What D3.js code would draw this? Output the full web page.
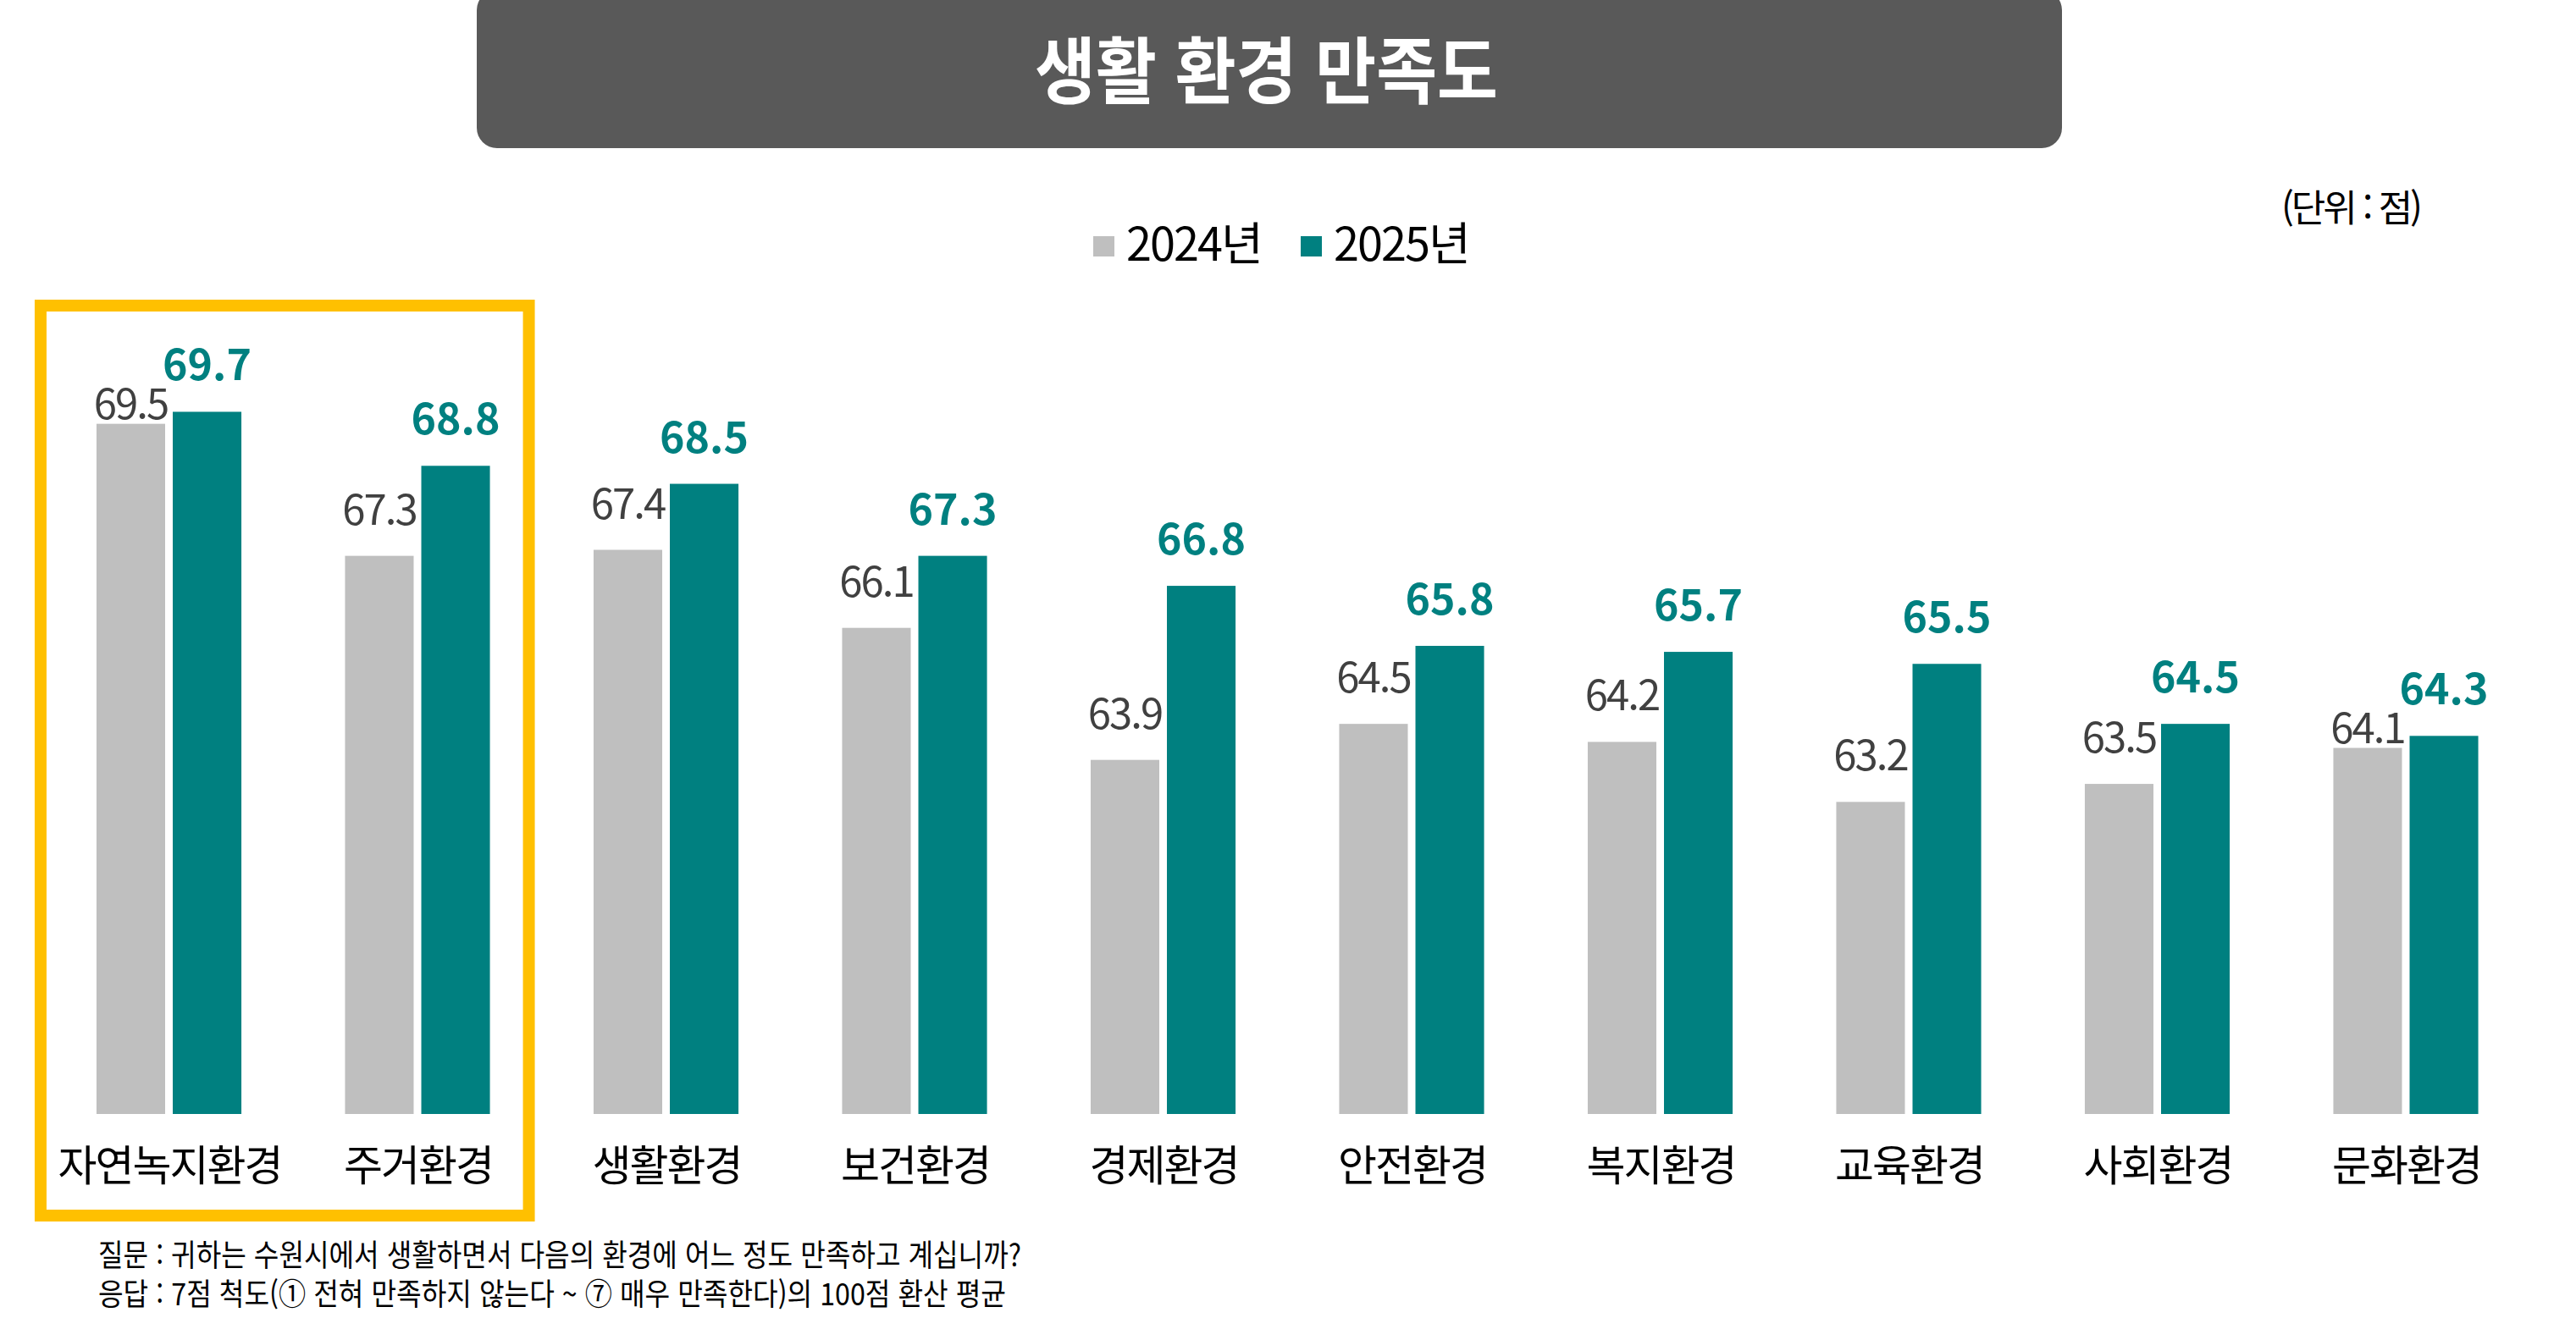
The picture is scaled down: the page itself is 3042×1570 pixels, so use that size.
<!DOCTYPE html>
<html lang="ko">
<head>
<meta charset="utf-8">
<title>생활 환경 만족도</title>
<script src="https://cdn.jsdelivr.net/npm/d3@7"></script>
<style>
  html, body { margin: 0; padding: 0; background: #fff; }
  svg { display: block; font-family: "Noto Sans CJK KR", "Noto Sans", sans-serif; }
</style>
</head>
<body>
<div id="chart"></div>
<script>
// Data
const categories = ['자연녹지환경', '주거환경', '생활환경', '보건환경', '경제환경', '안전환경', '복지환경', '교육환경', '사회환경', '문화환경'];
const values2024 = [69.5, 67.3, 67.4, 66.1, 63.9, 64.5, 64.2, 63.2, 63.5, 64.1];
const values2025 = [69.7, 68.8, 68.5, 67.3, 66.8, 65.8, 65.7, 65.5, 64.5, 64.3];
const seriesNames = ['2024년', '2025년'];
const highlighted = ['자연녹지환경', '주거환경'];
const title = '생활 환경 만족도';
const unitLabel = '(단위 : 점)';
const notes = [
  '질문 : 귀하는 수원시에서 생활하면서 다음의 환경에 어느 정도 만족하고 계십니까?',
  '응답 : 7점 척도(① 전혀 만족하지 않는다 ~ ⑦ 매우 만족한다)의 100점 환산 평균'
];

// Visual
const width = 3042;
const height = 1570;
const colors = ['#BFBFBF', '#008080'];
const labelColors = ['#404040', '#008080'];

const rows = categories.map((c, i) => ({ cat: c, vals: [values2024[i], values2025[i]] }));

const svg = d3.select('#chart')
  .append('svg')
  .attr('width', width)
  .attr('height', height);

// title box
svg.append('rect')
  .attr('x', 563).attr('y', -12)
  .attr('width', 1872).attr('height', 187)
  .attr('rx', 24)
  .attr('fill', '#595959');

svg.append('text')
  .attr('x', 1222).attr('y', 116)
  .attr('textLength', 547)
  .attr('lengthAdjust', 'spacingAndGlyphs')
  .attr('fill', '#fff')
  .style('font-size', '86px')
  .style('font-weight', 700)
  .text(title);

svg.append('text')
  .attr('x', 2858).attr('y', 262)
  .attr('text-anchor', 'end')
  .attr('fill', '#000')
  .style('font-size', '44px')
  .style('letter-spacing', '-3px')
  .text(unitLabel);

// legend
const legend = svg.append('g').attr('transform', 'translate(1291,0)');
const items = legend.selectAll('g')
  .data(seriesNames)
  .enter()
  .append('g')
  .attr('transform', (d, i) => `translate(${i * 245},0)`);
items.append('rect')
  .attr('x', 0).attr('y', 279)
  .attr('width', 25).attr('height', 24)
  .attr('fill', (d, i) => colors[i]);
items.append('text')
  .attr('x', 39).attr('y', 308)
  .attr('fill', '#000')
  .style('font-size', '54px')
  .style('letter-spacing', '-2px')
  .text(d => d);

// scales
const x0 = d3.scaleBand()
  .domain(categories)
  .range([52.75, 52.75 + 293.5 * categories.length])
  .paddingInner(0.417)
  .paddingOuter(0.2085);

const x1 = d3.scaleBand()
  .domain(seriesNames)
  .range([0, x0.bandwidth()])
  .paddingInner(0.1);

const y = d3.scaleLinear()
  .domain([58, 70])
  .range([1316, 1316 - 12 * 70.9]);

// highlight frame
const hl0 = x0(highlighted[0]);
const hl1 = x0(highlighted[highlighted.length - 1]) + x0.bandwidth();
svg.append('rect')
  .attr('x', hl0 - 66).attr('y', 361)
  .attr('width', hl1 + 46 - (hl0 - 66)).attr('height', 1075)
  .attr('fill', 'none')
  .attr('stroke', '#FFC000')
  .attr('stroke-width', 14);

// bars
const groups = svg.selectAll('g.grp')
  .data(rows)
  .enter()
  .append('g')
  .attr('class', 'grp')
  .attr('transform', d => `translate(${x0(d.cat)},0)`);

groups.selectAll('rect')
  .data(d => d.vals.map((v, i) => ({ key: seriesNames[i], v, i })))
  .enter()
  .append('rect')
  .attr('x', d => x1(d.key))
  .attr('y', d => y(d.v))
  .attr('width', x1.bandwidth())
  .attr('height', d => y.range()[0] - y(d.v))
  .attr('fill', d => colors[d.i]);

// value labels: 2024 label drops to the bar top when it would hit the 2025 label
const gap = 37;
const digitH = 36;
function labelY(d, vals) {
  if (d.i === 1) return y(d.v) - gap;
  const y24 = y(vals[0]);
  const y25 = y(vals[1]);
  if (Math.abs(y24 - y25) < digitH) return y24 - 6;
  return y24 - gap;
}

groups.selectAll('text.val')
  .data(d => d.vals.map((v, i) => ({ key: seriesNames[i], v, i, vals: d.vals })))
  .enter()
  .append('text')
  .attr('class', 'val')
  .attr('x', d => x1(d.key) + x1.bandwidth() / 2)
  .attr('y', d => labelY(d, d.vals))
  .attr('text-anchor', 'middle')
  .attr('fill', d => labelColors[d.i])
  .style('font-size', d => d.i === 1 ? '50px' : '49px')
  .style('font-weight', d => d.i === 1 ? 700 : 400)
  .style('letter-spacing', d => d.i === 1 ? '0px' : '-2px')
  .text(d => d.v.toFixed(1));

// category labels
svg.selectAll('text.cat')
  .data(categories)
  .enter()
  .append('text')
  .attr('class', 'cat')
  .attr('x', d => x0(d) + x0.bandwidth() / 2 + 1)
  .attr('y', 1395)
  .attr('text-anchor', 'middle')
  .attr('fill', '#000')
  .style('font-size', '50px')
  .style('letter-spacing', '-2px')
  .text(d => d);

// notes
const noteWidths = [1090, 1072];
svg.selectAll('text.note')
  .data(notes)
  .enter()
  .append('text')
  .attr('class', 'note')
  .attr('x', 116)
  .attr('y', (d, i) => 1496 + i * 46)
  .attr('textLength', (d, i) => noteWidths[i])
  .attr('lengthAdjust', 'spacingAndGlyphs')
  .attr('fill', '#000')
  .style('font-size', '36px')
  .text(d => d);
</script>
</body>
</html>
